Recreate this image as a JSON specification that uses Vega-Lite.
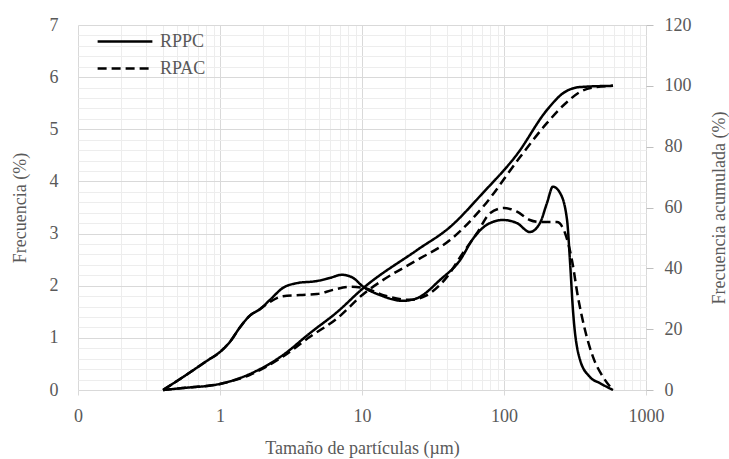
{
  "$schema": "https://vega.github.io/schema/vega-lite/v6.json",
  "width": 568,
  "height": 365,
  "autosize": {"type": "none"},
  "padding": {"left": 78, "top": 25, "right": 83, "bottom": 69},
  "background": "white",
  "config": {
    "view": {"stroke": null},
    "font": "Liberation Serif",
    "axis": {
      "labelFont": "Liberation Serif",
      "titleFont": "Liberation Serif",
      "labelFontSize": 18,
      "titleFontSize": 18,
      "labelColor": "#595959",
      "titleColor": "#595959",
      "titleFontWeight": "normal",
      "domain": false
    },
    "legend": {
      "labelFont": "Liberation Serif",
      "labelFontSize": 18,
      "labelColor": "#595959"
    }
  },
  "datasets": {
    "freq": [
      {"s": "RPPC", "x": 0.397, "y": 0},
      {"s": "RPPC", "x": 0.55, "y": 0.25},
      {"s": "RPPC", "x": 0.81, "y": 0.56},
      {"s": "RPPC", "x": 1.0, "y": 0.73},
      {"s": "RPPC", "x": 1.18, "y": 0.93},
      {"s": "RPPC", "x": 1.38, "y": 1.2},
      {"s": "RPPC", "x": 1.63, "y": 1.43},
      {"s": "RPPC", "x": 1.91, "y": 1.55},
      {"s": "RPPC", "x": 2.25, "y": 1.73},
      {"s": "RPPC", "x": 2.78, "y": 1.96},
      {"s": "RPPC", "x": 3.49, "y": 2.05},
      {"s": "RPPC", "x": 4.82, "y": 2.09},
      {"s": "RPPC", "x": 5.96, "y": 2.15},
      {"s": "RPPC", "x": 7.23, "y": 2.21},
      {"s": "RPPC", "x": 8.65, "y": 2.15},
      {"s": "RPPC", "x": 10.2, "y": 1.98},
      {"s": "RPPC", "x": 13.4, "y": 1.82},
      {"s": "RPPC", "x": 19.4, "y": 1.71},
      {"s": "RPPC", "x": 24.4, "y": 1.76},
      {"s": "RPPC", "x": 35.4, "y": 2.11},
      {"s": "RPPC", "x": 49, "y": 2.49},
      {"s": "RPPC", "x": 60.5, "y": 2.9},
      {"s": "RPPC", "x": 77, "y": 3.18},
      {"s": "RPPC", "x": 98.4, "y": 3.26},
      {"s": "RPPC", "x": 123.6, "y": 3.2},
      {"s": "RPPC", "x": 152, "y": 3.03},
      {"s": "RPPC", "x": 179, "y": 3.2},
      {"s": "RPPC", "x": 201, "y": 3.59},
      {"s": "RPPC", "x": 221, "y": 3.9},
      {"s": "RPPC", "x": 248, "y": 3.78},
      {"s": "RPPC", "x": 278, "y": 3.26},
      {"s": "RPPC", "x": 292, "y": 2.44},
      {"s": "RPPC", "x": 306, "y": 1.53},
      {"s": "RPPC", "x": 343, "y": 0.58},
      {"s": "RPPC", "x": 403, "y": 0.25},
      {"s": "RPPC", "x": 475, "y": 0.13},
      {"s": "RPPC", "x": 586, "y": 0},
      {"s": "RPAC", "x": 0.397, "y": 0},
      {"s": "RPAC", "x": 0.55, "y": 0.25},
      {"s": "RPAC", "x": 0.81, "y": 0.56},
      {"s": "RPAC", "x": 1.0, "y": 0.73},
      {"s": "RPAC", "x": 1.18, "y": 0.93},
      {"s": "RPAC", "x": 1.38, "y": 1.2},
      {"s": "RPAC", "x": 1.63, "y": 1.43},
      {"s": "RPAC", "x": 1.91, "y": 1.55},
      {"s": "RPAC", "x": 2.25, "y": 1.69},
      {"s": "RPAC", "x": 2.78, "y": 1.8},
      {"s": "RPAC", "x": 3.66, "y": 1.82},
      {"s": "RPAC", "x": 4.82, "y": 1.84},
      {"s": "RPAC", "x": 6.25, "y": 1.92},
      {"s": "RPAC", "x": 8.2, "y": 1.98},
      {"s": "RPAC", "x": 10.2, "y": 1.96},
      {"s": "RPAC", "x": 14.1, "y": 1.82},
      {"s": "RPAC", "x": 21.8, "y": 1.73},
      {"s": "RPAC", "x": 28.7, "y": 1.82},
      {"s": "RPAC", "x": 39.7, "y": 2.17},
      {"s": "RPAC", "x": 51.4, "y": 2.63},
      {"s": "RPAC", "x": 64.6, "y": 3.01},
      {"s": "RPAC", "x": 79.6, "y": 3.39},
      {"s": "RPAC", "x": 100, "y": 3.49},
      {"s": "RPAC", "x": 123.6, "y": 3.42},
      {"s": "RPAC", "x": 152, "y": 3.26},
      {"s": "RPAC", "x": 179, "y": 3.22},
      {"s": "RPAC", "x": 201, "y": 3.22},
      {"s": "RPAC", "x": 236, "y": 3.22},
      {"s": "RPAC", "x": 269, "y": 3.01},
      {"s": "RPAC", "x": 301, "y": 2.49},
      {"s": "RPAC", "x": 332, "y": 1.78},
      {"s": "RPAC", "x": 372, "y": 1.15},
      {"s": "RPAC", "x": 424, "y": 0.63},
      {"s": "RPAC", "x": 498, "y": 0.25},
      {"s": "RPAC", "x": 586, "y": 0}
    ],
    "cum": [
      {"s": "RPPC", "x": 0.397, "y": 0},
      {"s": "RPPC", "x": 0.55, "y": 0.66},
      {"s": "RPPC", "x": 1.0, "y": 2.0},
      {"s": "RPPC", "x": 1.63, "y": 5.3},
      {"s": "RPPC", "x": 2.78, "y": 11.5},
      {"s": "RPPC", "x": 4.3, "y": 18.7},
      {"s": "RPPC", "x": 6.67, "y": 25.6},
      {"s": "RPPC", "x": 10.2, "y": 33.5},
      {"s": "RPPC", "x": 24.4, "y": 46},
      {"s": "RPPC", "x": 41.7, "y": 53.6},
      {"s": "RPPC", "x": 71.1, "y": 64.8},
      {"s": "RPPC", "x": 123.6, "y": 77.5},
      {"s": "RPPC", "x": 201, "y": 92.1},
      {"s": "RPPC", "x": 261, "y": 97.6},
      {"s": "RPPC", "x": 343, "y": 99.6},
      {"s": "RPPC", "x": 586, "y": 100},
      {"s": "RPAC", "x": 0.397, "y": 0},
      {"s": "RPAC", "x": 0.55, "y": 0.66},
      {"s": "RPAC", "x": 1.0, "y": 2.0},
      {"s": "RPAC", "x": 1.63, "y": 5.0},
      {"s": "RPAC", "x": 2.78, "y": 11},
      {"s": "RPAC", "x": 4.3, "y": 17.5},
      {"s": "RPAC", "x": 6.67, "y": 23.5},
      {"s": "RPAC", "x": 10.2, "y": 31.5},
      {"s": "RPAC", "x": 14.1, "y": 36.2},
      {"s": "RPAC", "x": 24.4, "y": 42.7},
      {"s": "RPAC", "x": 41.7, "y": 49.3},
      {"s": "RPAC", "x": 71.1, "y": 60.2},
      {"s": "RPAC", "x": 129.8, "y": 76.6},
      {"s": "RPAC", "x": 201, "y": 87.8},
      {"s": "RPAC", "x": 278, "y": 94.7},
      {"s": "RPAC", "x": 343, "y": 98},
      {"s": "RPAC", "x": 447, "y": 99.6},
      {"s": "RPAC", "x": 586, "y": 100}
    ]
  },
  "layer": [
    {
      "data": {"name": "freq"},
      "mark": {"type": "line", "interpolate": "monotone", "strokeWidth": 2.5, "color": "black"},
      "encoding": {
        "x": {
          "field": "x",
          "type": "quantitative",
          "scale": {"type": "log", "domain": [0.1, 1000]},
          "axis": {
            "title": "Tamaño de partículas (µm)",
            "titleFont": "Liberation Serif",
            "titlePadding": 14,
            "values": [0.1,0.2,0.3,0.4,0.5,0.6,0.7,0.8,0.9,1,2,3,4,5,6,7,8,9,10,20,30,40,50,60,70,80,90,100,200,300,400,500,600,700,800,900,1000],
            "grid": true,
            "gridColor": {"condition": {"test": "abs(log(datum.value)/LN10 - round(log(datum.value)/LN10)) < 0.001", "value": "#d9d9d9"}, "value": "#ededed"},
            "gridWidth": 1,
            "ticks": true,
            "tickSize": 5,
            "tickColor": "#d9d9d9",
            "tickOpacity": {"condition": {"test": "abs(log(datum.value)/LN10 - round(log(datum.value)/LN10)) < 0.001", "value": 1}, "value": 0},
            "labelFont": "Liberation Serif",
            "labelPadding": 12,
            "labelFlush": false,
            "labelOverlap": false,
            "labelExpr": "datum.value < 0.15 ? '0' : (abs(log(datum.value)/LN10 - round(log(datum.value)/LN10)) < 0.001 ? format(datum.value, 'd') : '')"
          }
        },
        "y": {
          "field": "y",
          "type": "quantitative",
          "scale": {"domain": [0, 7]},
          "axis": {
            "title": "Frecuencia (%)",
            "titleFont": "Liberation Serif",
            "titlePadding": 20,
            "values": [0,0.2,0.4,0.6,0.8,1,1.2,1.4,1.6,1.8,2,2.2,2.4,2.6,2.8,3,3.2,3.4,3.6,3.8,4,4.2,4.4,4.6,4.8,5,5.2,5.4,5.6,5.8,6,6.2,6.4,6.6,6.8,7],
            "grid": true,
            "gridColor": {"condition": {"test": "abs(datum.value - round(datum.value)) < 0.001", "value": "#d9d9d9"}, "value": "#ededed"},
            "ticks": false,
            "labelFont": "Liberation Serif",
            "labelPadding": 20,
            "labelFlush": false,
            "labelOverlap": false,
            "labelExpr": "abs(datum.value - round(datum.value)) < 0.001 ? format(datum.value, 'd') : ''"
          }
        },
        "strokeDash": {
          "field": "s",
          "type": "nominal",
          "scale": {"domain": ["RPPC", "RPAC"], "range": [[1, 0], [9, 5]]},
          "legend": {
            "title": null,
            "orient": "none",
            "legendX": 18,
            "legendY": 4,
            "clipHeight": 25,
            "rowPadding": 2,
            "symbolType": "stroke",
            "symbolSize": 3000,
            "symbolStrokeWidth": 2.5,
            "symbolStrokeColor": "black",
            "labelFont": "Liberation Serif",
            "labelOffset": 6
          }
        }
      }
    },
    {
      "data": {"name": "cum"},
      "mark": {"type": "line", "interpolate": "monotone", "strokeWidth": 2.5, "color": "black"},
      "encoding": {
        "x": {"field": "x", "type": "quantitative", "scale": {"type": "log", "domain": [0.1, 1000]}},
        "y": {
          "field": "y",
          "type": "quantitative",
          "scale": {"domain": [0, 120]},
          "axis": {
            "orient": "right",
            "title": "Frecuencia acumulada (%)",
            "titleFont": "Liberation Serif",
            "titleAngle": -90,
            "titlePadding": 37,
            "values": [0, 20, 40, 60, 80, 100, 120],
            "grid": false,
            "ticks": true,
            "tickSize": 7,
            "tickColor": "#bfbfbf",
            "labelFont": "Liberation Serif",
            "labelPadding": 11,
            "labelFlush": false
          }
        },
        "strokeDash": {"field": "s", "type": "nominal", "legend": null}
      }
    }
  ],
  "resolve": {"scale": {"y": "independent"}}
}
